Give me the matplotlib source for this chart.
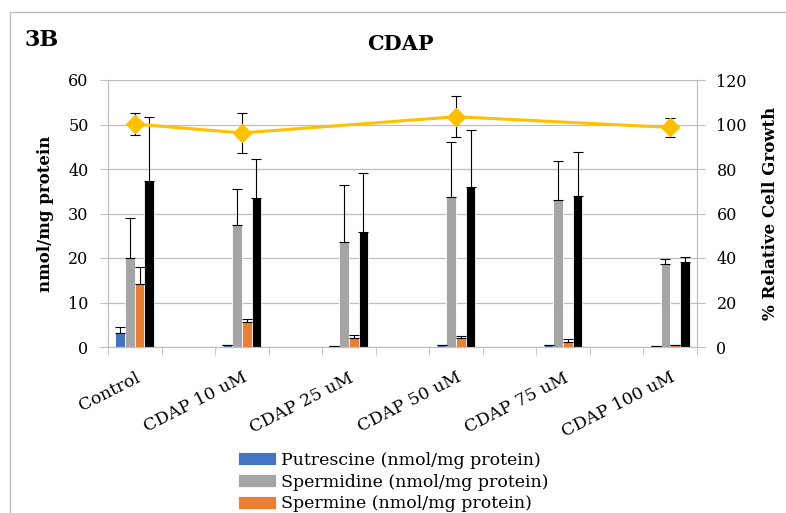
import numpy as np
import matplotlib.pyplot as plt
from matplotlib.patches import Rectangle

plt.rcParams['font.family'] = ['DejaVu Serif']

# Data
groups = ['Control', 'CDAP 10 uM', 'CDAP 25 uM', 'CDAP 50 uM', 'CDAP 75 uM', 'CDAP 100 uM']
putrescine = [3.2, 0.4, 0.2, 0.4, 0.4, 0.2]
putrescine_err = [1.4, 0.0, 0.0, 0.0, 0.0, 0.0]
spermidine = [19.9, 27.4, 23.5, 33.6, 33.0, 18.7]
spermidine_err = [9.1, 8.2, 12.9, 12.5, 8.7, 1.0]
spermine = [14.1, 5.6, 2.0, 2.0, 1.1, 0.4]
spermine_err = [3.9, 0.6, 0.6, 0.4, 0.7, 0.0]
total = [37.3, 33.4, 25.8, 35.9, 34.0, 19.2]
total_err = [14.3, 8.8, 13.4, 12.9, 9.9, 1.0]
growth = [100.2, 96.2, np.nan, 103.5, np.nan, 98.7]
growth_err = [5.0, 9.0, np.nan, 9.2, np.nan, 4.3]

series = [
    ('Putrescine (nmol/mg protein)', putrescine, putrescine_err, '#4472C4'),
    ('Spermidine (nmol/mg protein)', spermidine, spermidine_err, '#A5A5A5'),
    ('Spermine (nmol/mg protein)', spermine, spermine_err, '#ED7D31'),
    ('Total polyamines (nmol/mg protein)', total, total_err, '#000000'),
]

# groups sit on every other category slot, blanks in between
n_slots = 2 * len(groups) - 1
pos = np.arange(len(groups)) * 2
w = 0.18

fig = plt.figure(figsize=(7.86, 5.13), dpi=100)
fig.patches.append(Rectangle((10 / 786, -0.1), 1.2, 1 - 11.7 / 513 + 0.1,
                             transform=fig.transFigure, fill=False,
                             edgecolor='#BFBFBF', linewidth=1.0))

ax = fig.add_axes([108 / 786, 1 - 347 / 513, 589 / 786, 267 / 513])
ax2 = ax.twinx()

handles = []
for i, (name, vals, errs, col) in enumerate(series):
    x = pos + (i - 1.5) * w
    b = ax.bar(x, vals, width=w, color=col, edgecolor='white', linewidth=0.6,
               label=name, zorder=2)
    handles.append(b)
    ax.errorbar(x, vals, yerr=[np.zeros(len(errs)), errs], fmt='none',
                ecolor='black', elinewidth=0.8, capsize=3.5, capthick=0.8,
                zorder=3)

ax.set_xlim(-0.5, n_slots - 0.5)
ax.set_ylim(0, 60)
ax.set_yticks(np.arange(0, 61, 10))
ax.yaxis.grid(True, color='#BFBFBF', linewidth=0.9)
ax.set_axisbelow(True)

ax.set_xticks(pos)
ax.set_xticklabels(groups, rotation=27, ha='right', va='top',
                   rotation_mode='anchor', fontsize=12.5)
ax.tick_params(axis='x', length=0, pad=16)
ax.set_xticks(np.arange(0, n_slots + 1) - 0.5, minor=True)
ax.tick_params(axis='x', which='minor', length=6, color='#BFBFBF')
ax.tick_params(axis='y', length=6, color='#BFBFBF', labelsize=11.5, pad=8)

for s in ['top']:
    ax.spines[s].set_visible(False)
    ax2.spines[s].set_visible(False)
for a in (ax, ax2):
    a.spines['left'].set_color('#BFBFBF')
    a.spines['right'].set_color('#BFBFBF')
    a.spines['bottom'].set_color('#BFBFBF')

ax.set_ylabel('nmol/mg protein', fontweight='bold', fontsize=12, labelpad=10)

# cell growth line, only where measured
g = np.array(growth)
ge = np.array(growth_err)
ok = ~np.isnan(g)
ax2.plot(pos[ok], g[ok], color='#FFC000', linewidth=2.2, marker='D',
         markersize=9, zorder=4)
ax2.errorbar(pos[ok], g[ok], yerr=ge[ok], fmt='none', ecolor='black',
             elinewidth=0.8, capsize=3.5, capthick=0.8, zorder=3)
ax2.set_ylim(0, 120)
ax2.set_yticks(np.arange(0, 121, 20))
ax2.tick_params(axis='y', length=6, color='#BFBFBF', labelsize=11.5, pad=8)
ax2.set_ylabel('% Relative Cell Growth', fontweight='bold', fontsize=12,
               labelpad=11)

fig.text(25 / 786, 1 - 40 / 513, '3B', fontsize=16, fontweight='bold',
         va='center', ha='left')
fig.text(400 / 786, 1 - 44 / 513, 'CDAP', fontsize=15, fontweight='bold',
         va='center', ha='center')

fig.legend(handles=handles[:3], loc='upper left',
           bbox_to_anchor=(229 / 786, 1 - 443 / 513), frameon=False,
           fontsize=12.5, handlelength=2.2, handleheight=0.75,
           labelspacing=0.28, handletextpad=0.3, borderpad=0)

fig.savefig('out.png', dpi=100)
